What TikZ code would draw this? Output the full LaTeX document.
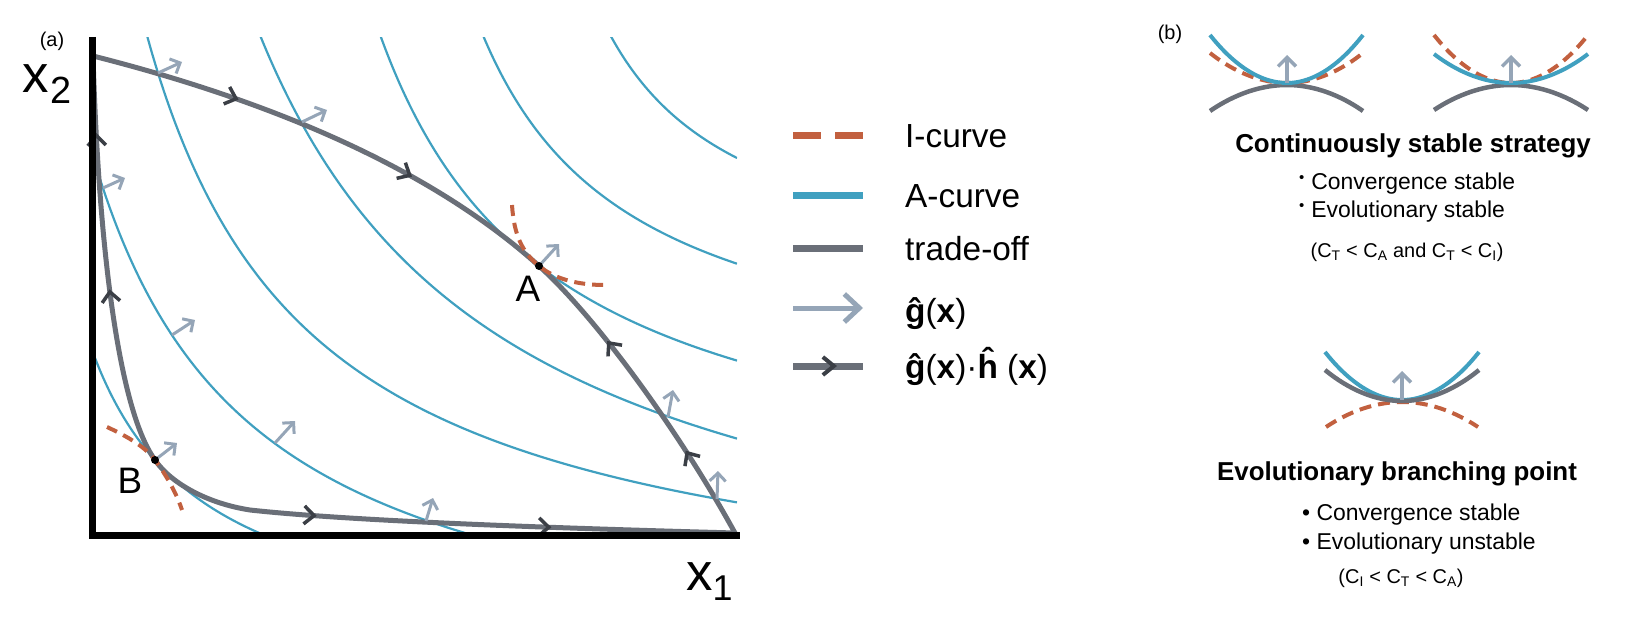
\documentclass[tikz,border=0pt]{standalone}
\usepackage{fontspec}
\setmainfont{Liberation Sans}
\usetikzlibrary{arrows.meta,decorations.markings}
\definecolor{acol}{HTML}{40A0C0}
\definecolor{icol}{HTML}{C2603F}
\definecolor{tcol}{HTML}{6A6F78}
\definecolor{tdark}{HTML}{3B3F46}
\definecolor{gcol}{HTML}{95A5B7}
\tikzset{
  acurve/.style={draw=acol, line width=2.2bp},
  icurve/.style={draw=icol, line width=4bp, dash pattern=on 11bp off 7bp},
  tradeoff/.style={draw=tcol, line width=5bp, line cap=round},
  garrow/.style={draw=gcol, line width=3bp, -{Straight Barb[length=8bp,width=16bp]}},
  tmark/.style={postaction={decorate, decoration={markings,
      mark=at position #1 with {\arrow{Straight Barb[length=10bp,width=18bp,line width=3.5bp,color=tdark]}}}}},
  dot/.style={circle, fill=black, inner sep=0pt, minimum size=8bp},
  lab/.style={inner sep=0pt, text=black},
  legline/.style={line width=7bp},
  sA/.style={draw=acol, line width=4bp},
  sI/.style={draw=icol, line width=4bp, dash pattern=on 12bp off 7bp},
  sT/.style={draw=tcol, line width=4.5bp},
  sG/.style={draw=gcol, line width=3.5bp, -{Straight Barb[length=9bp,width=18bp]}},
}
\begin{document}
\begin{tikzpicture}[x=1bp,y=-1bp]
\useasboundingbox (0,0) rectangle (1644,633);

% key points
\coordinate (S) at (93,56);
\coordinate (E) at (735,533);
\coordinate (A) at (539,266);
\coordinate (B) at (155,460);

% ---------- A-curves ----------
\begin{scope}
\clip (92,38) rectangle (737,535);
\draw[acurve] plot[domain=145:737, samples=90, smooth] (\x, {632.4 - 980.8/((\x+17.33)/100)});
\draw[acurve] plot[domain=257:737, samples=90, smooth] (\x, {648.7 - 1524.19/((\x-11.6)/100)});
\draw[acurve] plot[domain=92:476, samples=90, smooth] (\x, {693 - 848/((\x+65)/100)});
\draw[acurve] plot[domain=92:266, samples=60, smooth] (\x, {655.55 - 342.27/((\x+20.03)/100)});
\draw[acurve] plot[domain=378:737, samples=90, smooth] (\x, {519.8 - 845.89/((\x-205.7)/100)});
\draw[acurve] plot[domain=480:737, samples=80, smooth] (\x, {401.3 - 560/((\x-330)/100)});
\draw[acurve] plot[domain=607:737, samples=60, smooth] (\x, {294.1 - 363.36/((\x-470)/100)});
\end{scope}

% ---------- trade-offs ----------
\draw[tradeoff, tmark=152bp, tmark=342bp] (S) .. controls (245,94.5) and (419,158) .. (A);
\draw[tradeoff, tmark=96bp, tmark=231bp] (E) .. controls (683,438) and (599,320) .. (A);
\draw[tradeoff, tmark=178bp, tmark=335bp] (B) .. controls (120,412) and (99,257) .. (S);
\draw[tradeoff, tmark=177bp, tmark=412bp] (B) .. controls (170,482) and (205,503) .. (250,510)
      .. controls (350,521) and (550,528) .. (E);

% ---------- I-curves ----------
\draw[icurve] (512,205) .. controls (514,235) and (522,252) .. (A) .. controls (556,280) and (580,285) .. (605,285);
\draw[icurve] (107,427) .. controls (122,434) and (144,445) .. (B) .. controls (166,475) and (176,492) .. (182,510);

% ---------- gradient arrows ----------
\draw[garrow] (158,73) -- (182,62);
\draw[garrow] (302,122) -- (327,110);
\draw[garrow] (103,188) -- (125,178);
\draw[garrow] (172,335) -- (195,320);
\draw[garrow] (275,443) -- (295,421);
\draw[garrow] (B) -- (177,443);
\draw[garrow] (426,521) -- (433,498);
\draw[garrow] (A) -- (559,244);
\draw[garrow] (668,417) -- (673,390);
\draw[garrow] (717,499) -- (718,471);

% ---------- points ----------
\node[dot] (Adot) at (A) {};
\node[dot] (Bdot) at (B) {};
\node[lab, font=\fontsize{37}{40}\selectfont] (Alab) at (528,289) {A};
\node[lab, font=\fontsize{37}{40}\selectfont] (Blab) at (130,481) {B};

% ---------- axes ----------
\draw[line width=7bp, black] (92,37) -- (92,535) -- (740,535);
\node[lab, font=\fontsize{20}{24}\selectfont] (alab) at (52,41) {(a)};
\node[lab, anchor=base west, font=\fontsize{53}{60}\selectfont] (x2) at (22,93) {x\kern2pt\raisebox{-11pt}{\fontsize{38}{40}\selectfont 2}};
\node[lab, anchor=base west, font=\fontsize{53}{60}\selectfont] (x1) at (686,590) {x\kern0pt\raisebox{-11pt}{\fontsize{36}{40}\selectfont 1}};

% ---------- legend ----------
\draw[legline, icol, dash pattern=on 28bp off 14bp] (793,136) -- (863,136);
\draw[legline, acol] (793,196) -- (863,196);
\draw[legline, tcol] (793,248) -- (863,248);
\draw[gcol, line width=5bp, -{Straight Barb[length=15bp,width=28bp]}] (793,308) -- (863,308);
\draw[legline, tcol, postaction={decorate, decoration={markings, mark=at position 44bp with {\arrow{Straight Barb[length=11bp,width=18bp,line width=4bp,color=tdark]}}}}] (793,366) -- (863,366);
\begin{scope}[every node/.style={lab, anchor=base west, font=\fontsize{33.5}{40}\selectfont}]
\node (l1) at (905,148) {I-curve};
\node (l2) at (905,208) {A-curve};
\node (l3) at (905,260) {trade-off};
\node (l4) at (905,322) {\textbf{ĝ}(\textbf{x})};
\node (l5) at (905,378) {\textbf{ĝ}(\textbf{x})·\textbf{ĥ} (\textbf{x})};
\end{scope}

% ---------- panel (b) ----------
\node[lab, font=\fontsize{20}{24}\selectfont] (blab) at (1170,34) {(b)};
% CSS left
\draw[sT] (1210,111) parabola bend (1287,85) (1363,111);
\draw[sI] (1210,53) parabola bend (1287,83) (1363,53);
\draw[sA] (1210,35) parabola bend (1287,83) (1363,35);
\draw[sG] (1287,83) -- (1287,55);
% CSS right
\draw[sT] (1434,110) parabola bend (1511,85) (1588,110);
\draw[sI] (1434,35) parabola bend (1511,83) (1588,35);
\draw[sA] (1434,54) parabola bend (1511,83) (1588,54);
\draw[sG] (1511,83) -- (1511,55);
% branching
\draw[sI] (1326,427) parabola bend (1402,402) (1478,427);
\draw[sA] (1325,352) parabola bend (1402,400) (1479,352);
\draw[sT] (1325,370) parabola bend (1402,401) (1479,370);
\draw[sG] (1402,400) -- (1402,371);

\node[lab, anchor=base, font=\bfseries\fontsize{26}{30}\selectfont] (t1) at (1413,153) {Continuously stable strategy};
\node[lab, anchor=base west, font=\fontsize{23}{27}\selectfont] (t1a) at (1299,190) {\raisebox{8pt}{\fontsize{15}{15}\selectfont •}\hspace{7pt}Convergence stable};
\node[lab, anchor=base west, font=\fontsize{23}{27}\selectfont] (t1b) at (1299,218) {\raisebox{8pt}{\fontsize{15}{15}\selectfont •}\hspace{7pt}Evolutionary stable};
\node[lab, anchor=base, font=\fontsize{20}{24}\selectfont] (t1c) at (1407,257) {(C\textsubscript{T} < C\textsubscript{A} and C\textsubscript{T} < C\textsubscript{I})};

\node[lab, anchor=base, font=\bfseries\fontsize{26}{30}\selectfont] (t2) at (1397,480) {Evolutionary branching point};
\node[lab, anchor=base west, font=\fontsize{23}{27}\selectfont] (t2a) at (1302,520) {• Convergence stable};
\node[lab, anchor=base west, font=\fontsize{23}{27}\selectfont] (t2b) at (1302,549) {• Evolutionary unstable};
\node[lab, anchor=base, font=\fontsize{20}{24}\selectfont] (t2c) at (1401,583) {(C\textsubscript{I} < C\textsubscript{T} < C\textsubscript{A})};
\end{tikzpicture}
\end{document}
